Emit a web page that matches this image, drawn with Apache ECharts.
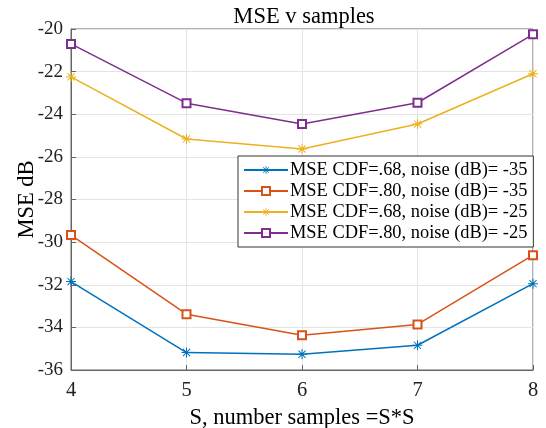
<!DOCTYPE html>
<html>
<head>
<meta charset="utf-8">
<script src="https://cdn.jsdelivr.net/npm/echarts@6/dist/echarts.min.js"></script>
<style>html,body{margin:0;padding:0;background:#fff;}#c{width:546px;height:428px;}</style>
</head>
<body>
<div id="c"></div>
<script>
const categories = [4, 5, 6, 7, 8];
const seriesNames = [
  'MSE CDF=.68, noise (dB)= -35',
  'MSE CDF=.80, noise (dB)= -35',
  'MSE CDF=.68, noise (dB)= -25',
  'MSE CDF=.80, noise (dB)= -25'
];
const blueVals   = [-31.85, -35.18, -35.26, -34.84, -31.95];
const orangeVals = [-29.67, -33.38, -34.37, -33.86, -30.61];
const yellowVals = [-22.25, -25.16, -25.63, -24.46, -22.10];
const purpleVals = [-20.70, -23.48, -24.46, -23.46, -20.25];
const yTicks = [-36, -34, -32, -30, -28, -26, -24, -22, -20];

const FONT = '"Liberation Serif", "DejaVu Serif", serif';
const star = 'path://M0,4.5 L10,4.5 L10,5.5 L0,5.5 Z M4.5,0 L5.5,0 L5.5,10 L4.5,10 Z M1.1,1.8 L1.8,1.1 L8.9,8.2 L8.2,8.9 Z M8.2,1.1 L8.9,1.8 L1.8,8.9 L1.1,8.2 Z';
const colors = ['#0072BD', '#D95319', '#EDB120', '#7E2F8E'];
const vals = [blueVals, orangeVals, yellowVals, purpleVals];
const syms = [star, 'emptyRect', star, 'emptyRect'];

const chart = echarts.init(document.getElementById('c'), null, {renderer: 'canvas'});
const series = vals.map((v, i) => ({
  name: seriesNames[i],
  type: 'line',
  data: categories.map((x, j) => [x, v[j]]),
  symbol: syms[i],
  symbolSize: syms[i] === star ? 10 : 8,
  showAllSymbol: true,
  lineStyle: {color: colors[i], width: 1.5},
  itemStyle: {color: colors[i], borderColor: colors[i], borderWidth: syms[i] === star ? 0 : 1.3},
  emphasis: {disabled: true},
  animation: false
}));

chart.setOption({
  animation: false,
  backgroundColor: '#fff',
  title: {
    text: 'MSE v samples',
    left: 299, top: 1, textAlign: 'center',
    textStyle: {fontFamily: FONT, fontSize: 22.5, fontWeight: 'normal', color: '#000'}
  },
  grid: {left: 71, right: 13, top: 29, bottom: 58, show: true, borderColor: '#666', borderWidth: 1,
    containLabel: false, outerBoundsMode: 'none'},
  legend: {
    orient: 'vertical',
    left: 238, top: 156,
    itemWidth: 44, itemHeight: 10, itemGap: 3,
    padding: [5, 6, 5, 5],
    borderColor: '#333', borderWidth: 1,
    backgroundColor: '#fff',
    textStyle: {fontFamily: FONT, fontSize: 18.4, lineHeight: 18, color: '#000', padding: [0,0,0,-3]},
    data: seriesNames
  },
  xAxis: {
    type: 'value', min: 4, max: 8, interval: 1,
    name: 'S, number samples =S*S', nameLocation: 'middle', nameGap: 37, nameMoveOverlap: false,
    nameTextStyle: {fontFamily: FONT, fontSize: 22.5, color: '#000'},
    axisLine: {show: true, lineStyle: {color: '#666'}},
    axisTick: {show: true, inside: true, length: 5, lineStyle: {color: '#666'}},
    axisLabel: {fontFamily: FONT, fontSize: 20.5, color: '#222', margin: 10},
    splitLine: {show: true, lineStyle: {color: '#e4e4e4', width: 1}}
  },
  yAxis: {
    type: 'value', min: -36, max: -20, interval: 2,
    name: 'MSE dB', nameLocation: 'middle', nameGap: 32, nameMoveOverlap: false,
    nameTextStyle: {fontFamily: FONT, fontSize: 22.5, color: '#000'},
    axisLine: {show: true, lineStyle: {color: '#666'}},
    axisTick: {show: true, inside: true, length: 5, lineStyle: {color: '#666'}},
    axisLabel: {fontFamily: FONT, fontSize: 19, color: '#222', margin: 8,
      formatter: v => yTicks.includes(v) ? String(v) : ''},
    splitLine: {show: true, lineStyle: {color: '#e4e4e4', width: 1}}
  },
  series: series
});
</script>
</body>
</html>
